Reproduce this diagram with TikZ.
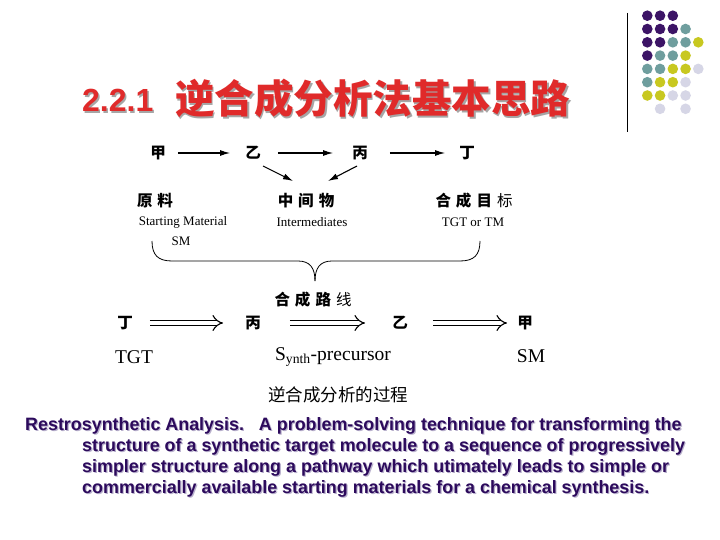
\documentclass[tikz,border=0pt]{standalone}
\usepackage{fontspec}
\setmainfont{Liberation Serif}
\newfontfamily\cjk{Noto Sans CJK SC}
\newfontfamily\arialf{Liberation Sans}
\usetikzlibrary{arrows.meta}
\definecolor{titlered}{HTML}{E02A2A}
\definecolor{dpurple}{HTML}{3C1466}
\definecolor{dteal}{HTML}{6F9E9E}
\definecolor{dyellow}{HTML}{C8C820}
\definecolor{dlav}{HTML}{D6D6E6}
\definecolor{textpurple}{HTML}{2C0A5C}
\definecolor{shadowlav}{HTML}{B8B0CC}
\tikzset{
  dot/.style={circle, inner sep=0pt, minimum size=10.6pt},
  hanzi/.style={font=\cjk\bfseries\fontsize{15.5}{17}\selectfont, inner sep=0pt},
  eng/.style={font=\fontsize{13}{15}\selectfont, inner sep=0pt},
  big/.style={font=\fontsize{19.5}{22}\selectfont, inner sep=0pt},
  arr/.style={line width=1.1pt, -{Latex[length=10pt,width=6pt]}},
  dbl/.style={double, double distance=4.5pt, line width=1.1pt, -{Implies}},
  para/.style={font=\arialf\bfseries\fontsize{17.9}{20}\selectfont, anchor=base west, inner sep=0pt},
}
\newcommand{\hzsp}{\hspace{5pt}}
\begin{document}
\begin{tikzpicture}[x=1pt,y=-1pt]
\useasboundingbox (0,0) rectangle (720,540);
\fill[white] (0,0) rectangle (720,540);
% decoration dots
\draw[line width=0.8pt] (627,13) -- (627,132);
\foreach \r/\cols in {0/{0/dpurple,1/dpurple,2/dpurple},
  1/{0/dpurple,1/dpurple,2/dpurple,3/dteal},
  2/{0/dpurple,1/dpurple,2/dteal,3/dteal,4/dyellow},
  3/{0/dpurple,1/dteal,2/dteal,3/dyellow},
  4/{0/dteal,1/dteal,2/dyellow,3/dyellow,4/dlav},
  5/{0/dteal,1/dyellow,2/dyellow,3/dlav},
  6/{0/dyellow,1/dyellow,2/dlav,3/dlav},
  7/{1/dlav,3/dlav}}{
  \foreach \c/\col in \cols {
    \node[dot, fill=\col] (dot-\r-\c) at (647.3+12.75*\c, 15.7+13.3*\r) {};
  }
}
% title
\node[anchor=base west, inner sep=0pt, text=gray!70, font=\arialf\bfseries\fontsize{32}{36}\selectfont] (tnumsh) at (83.5,113.5) {2.2.1};
\node[anchor=base west, inner sep=0pt, text=titlered, font=\arialf\bfseries\fontsize{32}{36}\selectfont] (tnum) at (82,112) {2.2.1};
\node[anchor=base west, inner sep=0pt, text=gray!70, font=\cjk\bfseries\fontsize{39.5}{42}\selectfont] (ttextsh) at (176.5,115.5) {逆合成分析法基本思路};
\node[anchor=base west, inner sep=0pt, text=titlered, font=\cjk\bfseries\fontsize{39.5}{42}\selectfont] (ttext) at (175,114) {逆合成分析法基本思路};
% row 1
\node[hanzi] (jia1) at (158,153) {甲};
\node[hanzi] (yi1) at (253,153) {乙};
\node[hanzi] (bing1) at (360,153) {丙};
\node[hanzi] (ding1) at (467,153) {丁};
\draw[arr, shorten <=12pt, shorten >=15pt] (jia1.east) -- (yi1.west);
\draw[arr, shorten <=17pt, shorten >=19pt] (yi1.east) -- (bing1.west);
\draw[arr, shorten <=22pt, shorten >=14pt] (bing1.east) -- (ding1.west);
% row 2
\node[hanzi] (sm-cn) at (155,201) {原\hzsp 料};
\node[hanzi] (mid-cn) at (306,201) {中\hzsp 间\hzsp 物};
\node[hanzi] (tgt-cn) at (474,201) {合\hzsp 成\hzsp 目\hzsp {\mdseries 标}};
\draw[arr] ([shift={(10,13)}]yi1.center) -- ([shift={(-13,-20)}]mid-cn.center);
\draw[arr] ([shift={(-3,13)}]bing1.center) -- ([shift={(22,-20)}]mid-cn.center);
% row 3
\node[eng] (sm-en) at (183,222) {Starting Material};
\node[eng] (sm-ab) at (181,241) {SM};
\node[eng] (mid-en) at (312,222) {Intermediates};
\node[eng] (tgt-en) at (473,222) {TGT or TM};
% brace
\coordinate (brL) at (152,241);
\coordinate (brR) at (480,241);
\coordinate (brT) at (315,281);
\draw[line width=0.8pt] (brL) .. controls (152,255) and (158,261) .. (172,261) -- (298,261) .. controls (310,261) and (315,268) .. (brT);
\draw[line width=0.8pt] (brR) .. controls (480,255) and (474,261) .. (460,261) -- (332,261) .. controls (320,261) and (315,268) .. (brT);
\node[hanzi] (route) at (313,300) {合\hzsp 成\hzsp 路\hzsp {\mdseries 线}};
% row 4
\node[hanzi] (ding2) at (125,323) {丁};
\node[hanzi] (bing2) at (253,323) {丙};
\node[hanzi] (yi2) at (400,323) {乙};
\node[hanzi] (jia2) at (525,323) {甲};
\draw[dbl, shorten <=17pt, shorten >=22pt] (ding2.east) -- (bing2.west);
\draw[dbl, shorten <=29pt, shorten >=27pt] (bing2.east) -- (yi2.west);
\draw[dbl, shorten <=25pt, shorten >=10pt] (yi2.east) -- (jia2.west);
% row 5
\node[big] (tgt2) at (134,357) {TGT};
\node[big] (syn) at (333,357) {S\textsubscript{ynth}-precursor};
\node[big] (sm2) at (531,356) {SM};
% caption
\node[inner sep=0pt, font=\cjk\fontsize{17.5}{20}\selectfont] (cap) at (338,395) {逆合成分析的过程};
% paragraph
\foreach \t/\xx/\yy [count=\i] in {{Restrosynthetic Analysis.\ \ \ A problem-solving technique for transforming the}/25/430,
  {structure of a synthetic target molecule to a sequence of progressively}/82/451,
  {simpler structure along a pathway which utimately leads to simple or}/82/472,
  {commercially available starting materials for a chemical synthesis.}/82/493}{
  \node[para, text=shadowlav] (parsh-\i) at (\xx+1.2,\yy+1.2) {\t};
  \node[para, text=textpurple] (par-\i) at (\xx,\yy) {\t};
}
\end{tikzpicture}
\end{document}
